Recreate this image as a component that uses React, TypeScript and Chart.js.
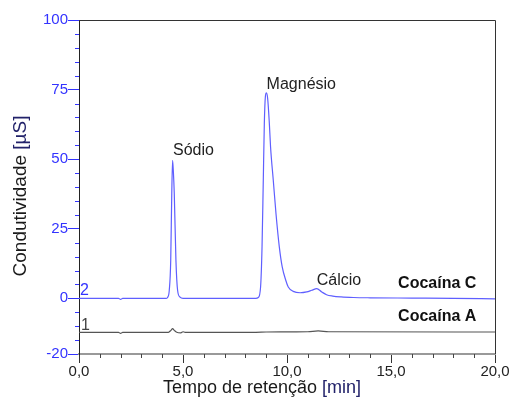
import React, { useEffect, useRef } from 'react';
import { Chart, registerables } from 'chart.js';

Chart.register(...registerables);

// Retention times (min) and conductivity (µS) – Cocaína C (trace 2)
const timeC = [0, 1.9, 2.0, 2.1, 4.2, 4.26, 4.34, 4.41, 4.46, 4.5, 4.54, 4.58, 4.66, 4.74, 4.86, 5.0, 8.5, 8.62, 8.73, 8.8, 8.86, 8.91, 8.96, 9.01, 9.07, 9.15, 9.21, 9.34, 9.47, 9.63, 9.77, 9.94, 10.06, 10.3, 10.63, 10.95, 11.19, 11.43, 11.67, 11.9, 12.2, 12.6, 13.2, 14.0, 16.0, 18.0, 20.0];
const valueC = [0, 0, -0.4, 0, 0, 0.3, 2.9, 13.7, 37.7, 49.6, 45, 37.7, 13.7, 2.9, 0.4, 0, 0, 0.3, 4.1, 18.5, 42.4, 62.8, 72.4, 73.8, 71.8, 63, 54.4, 42.4, 30.5, 18.5, 11.3, 6.5, 4.1, 2.5, 2.0, 2.3, 2.9, 3.5, 2.3, 1.3, 0.8, 0.5, 0.3, 0.2, 0.1, 0, -0.2];

// Cocaína A (trace 1)
const timeA = [0, 1.9, 2.0, 2.1, 4.3, 4.42, 4.5, 4.58, 4.7, 4.9, 5.0, 5.1, 8.5, 9.0, 11.0, 11.5, 12.0, 20.0];
const valueA = [-12.2, -12.2, -12.6, -12.2, -12.2, -11.5, -10.9, -11.5, -12.2, -12.4, -12.0, -12.2, -12.2, -12.1, -12.0, -11.7, -12.0, -12.1];

// Axis tick labels
const yMajorTicks = [100, 75, 50, 25, 0, -20];
const xMajorTicks = [0, 5, 10, 15, 20];

// Text annotations (data coordinates)
const annotationTexts = ['Sódio', 'Magnésio', 'Cálcio', 'Cocaína C', 'Cocaína A', '2', '1'];
const annotationX = [4.52, 9.02, 11.43, 15.34, 15.34, 0.05, 0.1];
const annotationY = [51.4, 75.2, 4.7, 3.6, -8.3, 1.1, -11.2];
const annotationBold = [false, false, false, true, true, false, false];
const annotationColor = ['#222', '#222', '#222', '#111', '#111', '#3333ff', '#444'];

const FONT = '"Liberation Sans", Arial, sans-serif';

export default function App() {
  const ref = useRef<HTMLCanvasElement>(null);

  useEffect(() => {
    if (!ref.current) return;

    const decor = {
      id: 'decor',
      afterDraw(chart: any) {
        const ctx = chart.ctx as CanvasRenderingContext2D;
        const { left, right, top, bottom } = chart.chartArea;
        const xs = chart.scales.x;
        const ys = chart.scales.y;
        ctx.save();
        // box top & right
        ctx.strokeStyle = '#333';
        ctx.lineWidth = 1;
        ctx.beginPath();
        ctx.moveTo(left, Math.round(top) + 0.5);
        ctx.lineTo(Math.round(right) + 0.5, Math.round(top) + 0.5);
        ctx.lineTo(Math.round(right) + 0.5, bottom);
        ctx.stroke();

        // minor y ticks
        ctx.strokeStyle = '#3333ff';
        ys.ticks.forEach((t: any) => {
          if (yMajorTicks.includes(t.value)) return;
          const py = Math.round(ys.getPixelForValue(t.value)) + 0.5;
          ctx.beginPath();
          ctx.moveTo(left - 4, py);
          ctx.lineTo(left, py);
          ctx.stroke();
        });
        // minor x ticks
        ctx.strokeStyle = '#444';
        xs.ticks.forEach((t: any) => {
          if (xMajorTicks.includes(t.value)) return;
          const px = Math.round(xs.getPixelForValue(t.value)) + 0.5;
          ctx.beginPath();
          ctx.moveTo(px, bottom);
          ctx.lineTo(px, bottom + 4);
          ctx.stroke();
        });

        // annotations
        ctx.textBaseline = 'alphabetic';
        ctx.textAlign = 'left';
        annotationTexts.forEach((txt, i) => {
          ctx.font = `${annotationBold[i] ? 'bold ' : ''}16px ${FONT}`;
          ctx.fillStyle = annotationColor[i];
          ctx.fillText(txt, xs.getPixelForValue(annotationX[i]), ys.getPixelForValue(annotationY[i]));
        });

        // axis titles
        ctx.font = `18px ${FONT}`;
        const xt1 = 'Tempo de retenção ';
        const xt2 = '[min]';
        const w1 = ctx.measureText(xt1).width;
        const w2 = ctx.measureText(xt2).width;
        const xStart = 262 - (w1 + w2) / 2;
        ctx.fillStyle = '#1a1a1a';
        ctx.fillText(xt1, xStart, 393);
        ctx.fillStyle = '#22226a';
        ctx.fillText(xt2, xStart + w1, 393);

        ctx.translate(26, 196);
        ctx.rotate(-Math.PI / 2);
        ctx.font = `19px ${FONT}`;
        const yt1 = 'Condutividade ';
        const yt2 = '[µS]';
        const v1 = ctx.measureText(yt1).width;
        const v2 = ctx.measureText(yt2).width;
        const ys0 = -(v1 + v2) / 2;
        ctx.fillStyle = '#1a1a1a';
        ctx.fillText(yt1, ys0, 0);
        ctx.fillStyle = '#22226a';
        ctx.fillText(yt2, ys0 + v1, 0);
        ctx.restore();
      },
    };

    const chart = new Chart(ref.current, {
      type: 'line',
      data: {
        datasets: [
          {
            label: 'Cocaína C',
            data: timeC.map((t, i) => ({ x: t, y: valueC[i] })),
            borderColor: '#5f5fff',
            borderWidth: 1.2,
            pointRadius: 0,
            cubicInterpolationMode: 'monotone',
            fill: false,
          },
          {
            label: 'Cocaína A',
            data: timeA.map((t, i) => ({ x: t, y: valueA[i] })),
            borderColor: '#555',
            borderWidth: 1.2,
            pointRadius: 0,
            cubicInterpolationMode: 'monotone',
            fill: false,
          },
        ],
      },
      options: {
        animation: false,
        responsive: false,
        events: [],
        layout: { padding: { top: 20, right: 18, left: 0, bottom: 0 } },
        plugins: { legend: { display: false }, tooltip: { enabled: false }, title: { display: false } },
        scales: {
          x: {
            type: 'linear',
            min: 0,
            max: 20,
            afterFit: (s: any) => { s.height = 46; },
            border: { display: true, color: '#999', width: 2 },
            grid: {
              drawOnChartArea: false,
              drawTicks: true,
              tickLength: 9,
              tickColor: (c: any) => (c.tick && xMajorTicks.includes(c.tick.value) ? '#333' : 'rgba(0,0,0,0)'),
            },
            ticks: {
              stepSize: 1,
              autoSkip: false,
              maxRotation: 0,
              padding: 0,
              color: '#222',
              font: { family: FONT, size: 15 },
              callback: (v: any) => (xMajorTicks.includes(Number(v)) ? Number(v).toFixed(1).replace('.', ',') : ''),
            },
          },
          y: {
            type: 'linear',
            min: -20,
            max: 100,
            afterFit: (s: any) => { s.width = 79; },
            border: { display: true, color: '#222', width: 1 },
            grid: {
              drawOnChartArea: false,
              drawTicks: true,
              tickLength: 11,
              tickColor: (c: any) => (c.tick && yMajorTicks.includes(c.tick.value) ? '#3333ff' : 'rgba(0,0,0,0)'),
            },
            ticks: {
              stepSize: 5,
              autoSkip: false,
              padding: 0,
              color: '#3333ff',
              font: { family: FONT, size: 15 },
              callback: (v: any) => (yMajorTicks.includes(Number(v)) ? String(v) : ''),
            },
          },
        },
      },
      plugins: [decor],
    } as any);

    return () => chart.destroy();
  }, []);

  return (
    <div style={{ position: 'absolute', left: 0, top: 0, width: 513, height: 400, background: '#fff' }}>
      <canvas ref={ref} width={513} height={400} style={{ display: 'block', width: 513, height: 400 }} />
    </div>
  );
}
